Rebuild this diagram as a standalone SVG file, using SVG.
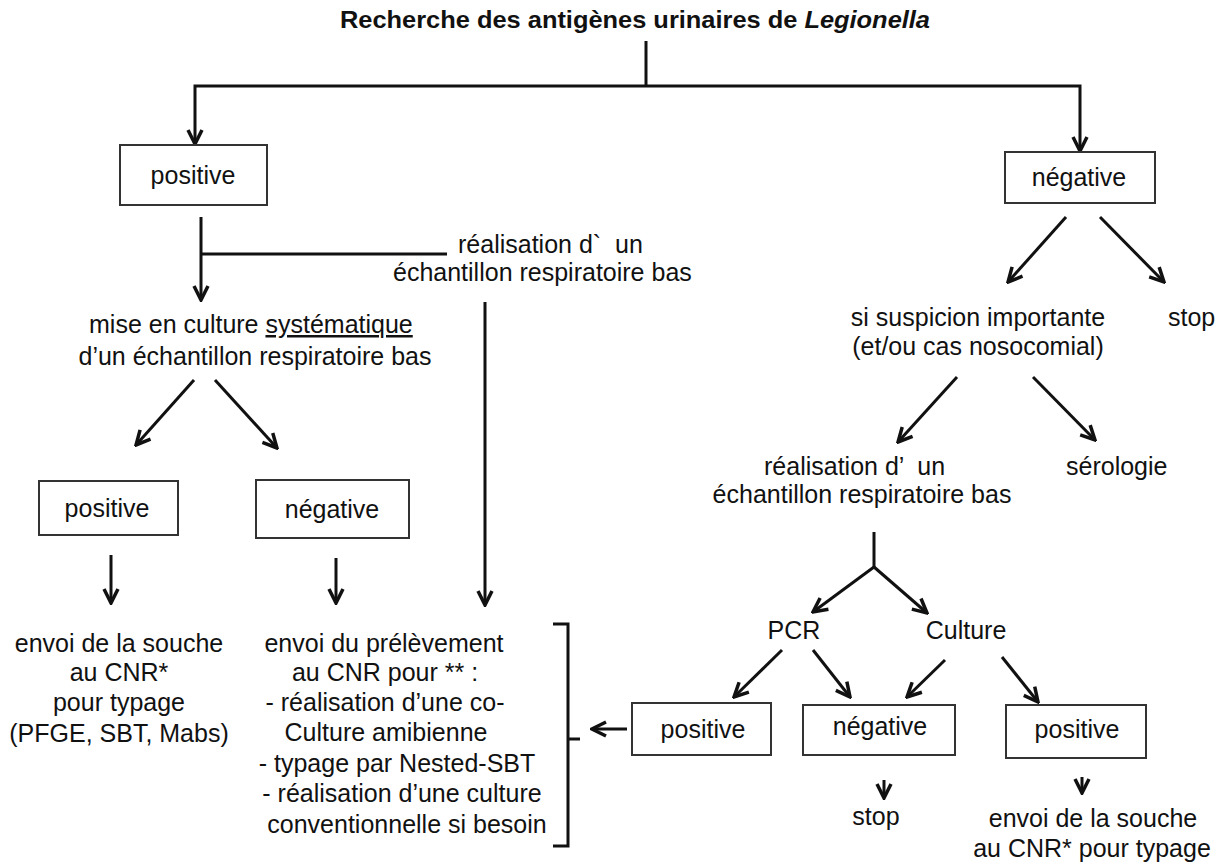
<svg xmlns="http://www.w3.org/2000/svg" width="1227" height="863" viewBox="0 0 1227 863">
<style>
  text { font-family: "Liberation Sans", Arial, sans-serif; font-size: 25px; fill: #111; }
  .t { font-weight: bold; font-size: 24px; }
  .m { text-anchor: middle; }
  .pre { white-space: pre; }
  .box { fill: #fff; stroke: #333; stroke-width: 2; }
  .ln { fill: none; stroke: #111; stroke-width: 3; }
</style>
<defs>
  <marker id="ah" viewBox="0 0 18 18" refX="16" refY="9" markerWidth="18" markerHeight="18" markerUnits="userSpaceOnUse" orient="auto">
    <path d="M2,2 L16,9 L2,16" fill="none" stroke="#111" stroke-width="3.5"/>
  </marker>
</defs>
<rect width="1227" height="863" fill="#fff"/>

<g id="title">
  <text class="t" x="340" y="28" textLength="590" lengthAdjust="spacingAndGlyphs">Recherche des antigènes urinaires de <tspan font-style="italic">Legionella</tspan></text>
</g>

<g id="connectors">
  <path class="ln" d="M646,41 V86"/>
  <path class="ln" d="M646,86 H195 V144" marker-end="url(#ah)"/>
  <path class="ln" d="M646,86 H1080 V151" marker-end="url(#ah)"/>
  <path class="ln" d="M201,217 V300" marker-end="url(#ah)"/>
  <path class="ln" d="M201,254 H447"/>
  <path class="ln" d="M485,302 V605" marker-end="url(#ah)"/>
  <path class="ln" d="M194,380 L136,445" marker-end="url(#ah)"/>
  <path class="ln" d="M215,380 L277,448" marker-end="url(#ah)"/>
  <path class="ln" d="M111,555 V603" marker-end="url(#ah)"/>
  <path class="ln" d="M336,558 V603" marker-end="url(#ah)"/>
  <path class="ln" d="M1066,217 L1008,282" marker-end="url(#ah)"/>
  <path class="ln" d="M1100,217 L1164,282" marker-end="url(#ah)"/>
  <path class="ln" d="M957,377 L898,442" marker-end="url(#ah)"/>
  <path class="ln" d="M1033,377 L1095,440" marker-end="url(#ah)"/>
  <path class="ln" d="M874,532 V567"/>
  <path class="ln" d="M874,567 L813,612" marker-end="url(#ah)"/>
  <path class="ln" d="M874,567 L927,613" marker-end="url(#ah)"/>
  <path class="ln" d="M782,650 L734,697" marker-end="url(#ah)"/>
  <path class="ln" d="M813,650 L850,697" marker-end="url(#ah)"/>
  <path class="ln" d="M945,660 L907,697" marker-end="url(#ah)"/>
  <path class="ln" d="M1002,657 L1038,702" marker-end="url(#ah)"/>
  <path class="ln" d="M627,729 H592" marker-end="url(#ah)"/>
  <path class="ln" d="M884,780 V798" marker-end="url(#ah)"/>
  <path class="ln" d="M1082,777 V793" marker-end="url(#ah)"/>
  <path class="ln" d="M553,624 H568 V846 H553 M568,739 H580"/>
</g>

<g id="n-positive1">
  <rect class="box" x="120" y="145" width="147" height="60"/>
  <text class="m" x="193" y="184">positive</text>
</g>
<g id="n-negative1">
  <rect class="box" x="1005" y="152" width="150" height="51"/>
  <text class="m" x="1079" y="186">négative</text>
</g>
<g id="n-realisation1">
  <text class="pre" x="458" y="253">réalisation d`  un</text>
  <text x="393" y="281">échantillon respiratoire bas</text>
</g>
<g id="n-culture">
  <text x="89" y="333">mise en culture <tspan text-decoration="underline">systématique</tspan></text>
  <text class="m" x="255" y="365">d’un échantillon respiratoire bas</text>
</g>
<g id="n-positive2">
  <rect class="box" x="39" y="481" width="139" height="54"/>
  <text class="m" x="107" y="517">positive</text>
</g>
<g id="n-negative2">
  <rect class="box" x="256" y="480" width="153" height="58"/>
  <text class="m" x="332" y="518">négative</text>
</g>
<g id="n-envoi-souche1">
  <text class="m" x="119" y="652">envoi de la souche</text>
  <text class="m" x="119" y="681">au CNR*</text>
  <text class="m" x="119" y="711">pour typage</text>
  <text class="m" x="119" y="742">(PFGE, SBT, Mabs)</text>
</g>
<g id="n-envoi-prelevement">
  <text class="m" x="384" y="652">envoi du prélèvement</text>
  <text class="m" x="385" y="681">au CNR pour ** :</text>
  <text class="m" x="385" y="711">- réalisation d’une co-</text>
  <text class="m" x="386" y="741">Culture amibienne</text>
  <text class="m" x="397" y="772">- typage par Nested-SBT</text>
  <text class="m" x="402" y="802">- réalisation d’une culture</text>
  <text class="m" x="407" y="833">conventionnelle si besoin</text>
</g>
<g id="n-suspicion">
  <text class="m" x="978" y="326">si suspicion importante</text>
  <text class="m" x="978" y="355">(et/ou cas nosocomial)</text>
</g>
<g id="n-stop1">
  <text x="1168" y="326">stop</text>
</g>
<g id="n-realisation2">
  <text class="pre" x="764" y="475">réalisation d’  un</text>
  <text class="m" x="862" y="503">échantillon respiratoire bas</text>
</g>
<g id="n-serologie">
  <text x="1066" y="475">sérologie</text>
</g>
<g id="n-pcr">
  <text class="m" x="794" y="639">PCR</text>
</g>
<g id="n-culture2">
  <text class="m" x="966" y="639">Culture</text>
</g>
<g id="n-positive3">
  <rect class="box" x="632" y="703" width="139" height="52"/>
  <text class="m" x="703" y="738">positive</text>
</g>
<g id="n-negative3">
  <rect class="box" x="803" y="705" width="152" height="50"/>
  <text class="m" x="880" y="735">négative</text>
</g>
<g id="n-positive4">
  <rect class="box" x="1006" y="705" width="140" height="53"/>
  <text class="m" x="1077" y="738">positive</text>
</g>
<g id="n-stop2">
  <text class="m" x="876" y="825">stop</text>
</g>
<g id="n-envoi-souche2">
  <text class="m" x="1093" y="827">envoi de la souche</text>
  <text class="m" x="1092" y="857">au CNR* pour typage</text>
</g>
</svg>
